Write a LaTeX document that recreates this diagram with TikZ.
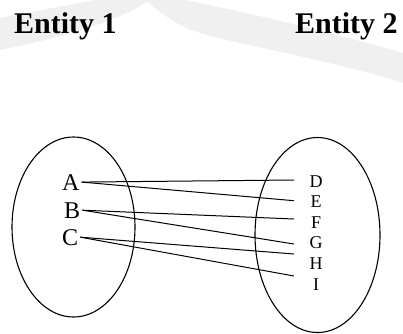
\documentclass[tikz,border=0pt]{standalone}
\usepackage{fontspec}
\setmainfont{Liberation Serif}
\usetikzlibrary{shapes.geometric}

\tikzset{
  title/.style={font=\bfseries\fontsize{30}{30}\selectfont, inner sep=0pt, anchor=base west},
  setbox/.style={draw, ellipse, line width=1.1pt, inner sep=0pt},
  bigletter/.style={font=\fontsize{24}{24}\selectfont, inner xsep=2pt, inner ysep=0pt, anchor=base west},
  smallletter/.style={font=\fontsize{18}{18}\selectfont, inner sep=0pt, anchor=base},
  link/.style={line width=1pt, black}
}

\begin{document}
\begin{tikzpicture}[x=1pt, y=-1pt]
  \useasboundingbox (0,0) rectangle (403,333);
  % Faint watermark band in the background.
  \fill[black!6] (0,18) .. controls (40,10) and (75,4) .. (95,0) -- (185,0)
    .. controls (260,15) and (340,35) .. (403,53) -- (403,83)
    .. controls (330,60) and (240,45) .. (200,33)
    .. controls (175,25) and (160,12) .. (147,2)
    .. controls (110,25) and (50,40) .. (0,50) -- cycle;
  % Headings.
  \node[title] (ent1) at (14,33) {Entity 1};
  \node[title] (ent2) at (295,33) {Entity 2};
  % The two sets.
  \node[setbox, minimum width=123pt, minimum height=180pt] (setL) at (73.5,227) {};
  \node[setbox, minimum width=125pt, minimum height=195pt] (setR) at (317.5,235) {};
  % Elements of the first set.
  \node[bigletter] (A) at (60,190) {A};
  \node[bigletter] (B) at (62,218) {B};
  \node[bigletter] (C) at (60,245) {C};
  % Elements of the second set.
  \foreach \l [count=\k from 0] in {D,...,I}
    \node[smallletter] (\l) at (316,187+20.6*\k) {\l};
  % Loose ends of the links, left of the letters.
  \foreach \l/\y in {D/180,E/200.7,F/219,G/244,H/254,I/276}
    \coordinate (end\l) at (294,\y);
  % Links between the elements.
  \foreach \s/\t in {A/D,A/E,B/F,B/G,C/H,C/I}
    \draw[link] (\s.east) -- (end\t);
\end{tikzpicture}
\end{document}
